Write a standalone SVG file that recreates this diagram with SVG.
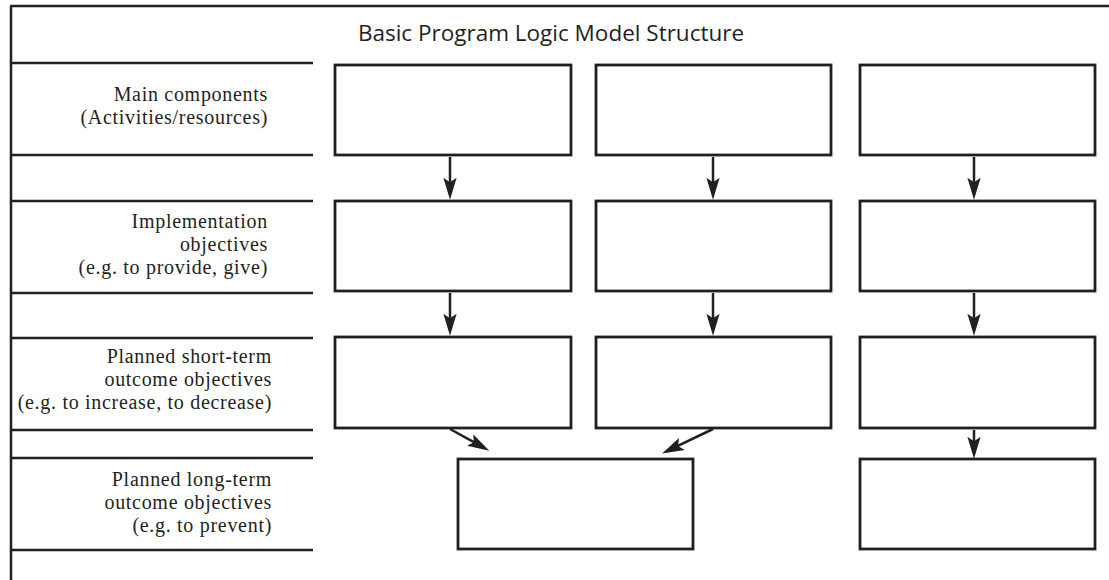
<svg xmlns="http://www.w3.org/2000/svg" width="1109" height="580" viewBox="0 0 1109 580">
<style>
.frame{stroke:#231f20;stroke-width:2.5;fill:none}
.box{stroke:#231f20;stroke-width:2.8;fill:#fff}
.lbl{font-family:"Liberation Serif","Times New Roman",serif;font-size:20px;letter-spacing:0.7px;fill:#231f20;text-anchor:end}
.title{font-family:"Open Sans","Noto Sans",sans-serif;font-size:22.5px;fill:#231f20;text-anchor:middle}
.arr{stroke:#231f20;stroke-width:2.5;fill:none;marker-end:url(#ah)}
</style>
<defs>
<marker id="ah" markerUnits="userSpaceOnUse" markerWidth="22" markerHeight="14" viewBox="0 0 20 12" refX="12" refY="6" orient="auto">
<path d="M0,0 L20,6 L0,12 L4,6 Z" fill="#231f20"/>
</marker>
</defs>
<rect width="1109" height="580" fill="#fff"/>
<g id="frame">
<path class="frame" d="M10,6 H1109 M11,6 V580"/>
<path class="frame" d="M11,63 H313 M11,155 H313 M11,201 H313 M11,293 H313 M11,338 H313 M11,430 H313 M11,458 H313 M11,550 H313"/>
</g>
<text id="title" class="title" x="551" y="41">Basic Program Logic Model Structure</text>
<g id="label-main">
<text class="lbl" x="268" y="101">Main components</text>
<text class="lbl" x="268" y="124">(Activities/resources)</text>
</g>
<g id="label-impl">
<text class="lbl" x="268" y="228">Implementation</text>
<text class="lbl" x="268" y="251">objectives</text>
<text class="lbl" x="268" y="274">(e.g. to provide, give)</text>
</g>
<g id="label-short">
<text class="lbl" x="272" y="363">Planned short-term</text>
<text class="lbl" x="272" y="386">outcome objectives</text>
<text class="lbl" x="272" y="409">(e.g. to increase, to decrease)</text>
</g>
<g id="label-long">
<text class="lbl" x="272" y="486">Planned long-term</text>
<text class="lbl" x="272" y="509">outcome objectives</text>
<text class="lbl" x="272" y="532">(e.g. to prevent)</text>
</g>
<g id="r1c1"><rect class="box" x="335" y="65" width="236" height="90"/></g>
<g id="r1c2"><rect class="box" x="596" y="65" width="235" height="90"/></g>
<g id="r1c3"><rect class="box" x="860" y="65" width="235" height="90"/></g>
<g id="r2c1"><rect class="box" x="335" y="201" width="236" height="90"/></g>
<g id="r2c2"><rect class="box" x="596" y="201" width="235" height="90"/></g>
<g id="r2c3"><rect class="box" x="860" y="201" width="235" height="90"/></g>
<g id="r3c1"><rect class="box" x="335" y="337" width="236" height="91"/></g>
<g id="r3c2"><rect class="box" x="596" y="337" width="235" height="91"/></g>
<g id="r3c3"><rect class="box" x="860" y="337" width="235" height="91"/></g>
<g id="r4c12"><rect class="box" x="458" y="459" width="235" height="90"/></g>
<g id="r4c3"><rect class="box" x="860" y="459" width="235" height="90"/></g>
<g id="connectors">
<line class="arr" x1="450" y1="157" x2="450" y2="191"/>
<line class="arr" x1="713" y1="157" x2="713" y2="191"/>
<line class="arr" x1="974" y1="157" x2="974" y2="191"/>
<line class="arr" x1="450" y1="293" x2="450" y2="327"/>
<line class="arr" x1="713" y1="293" x2="713" y2="327"/>
<line class="arr" x1="974" y1="293" x2="974" y2="327"/>
<line class="arr" x1="974" y1="430" x2="974" y2="450"/>
<line class="arr" x1="450" y1="429" x2="481.6" y2="446.4"/>
<line class="arr" x1="713" y1="429" x2="670" y2="449.7"/>
</g>
</svg>
